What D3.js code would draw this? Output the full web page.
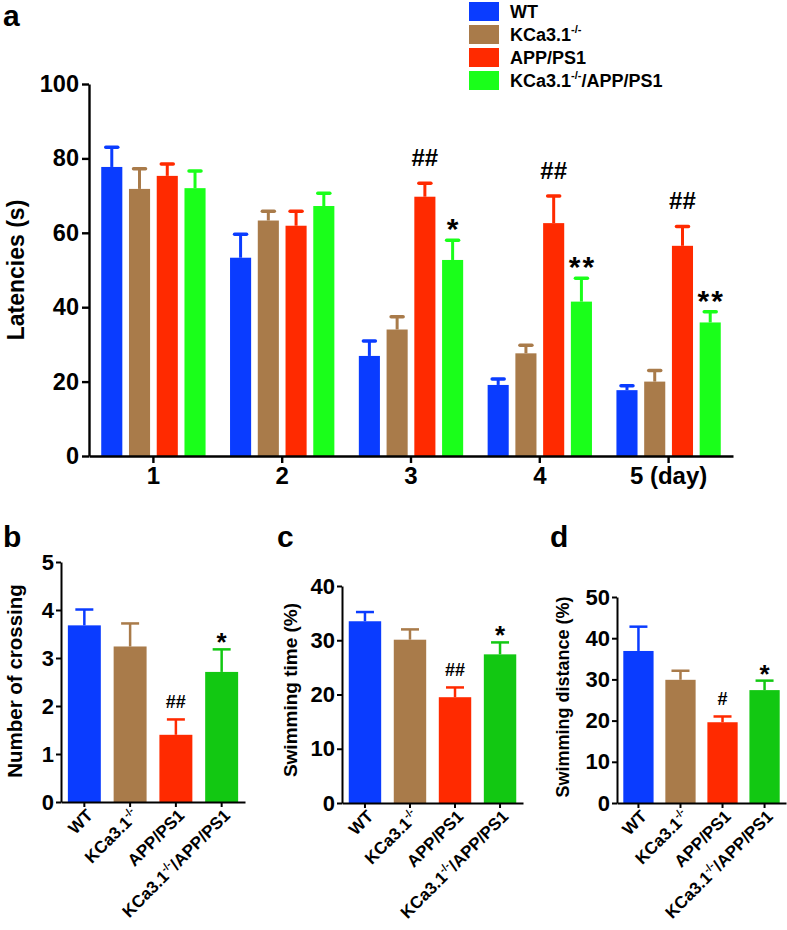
<!DOCTYPE html>
<html><head><meta charset="utf-8">
<script src="https://cdn.jsdelivr.net/npm/d3@7"></script>
<style>
body{margin:0;background:#fff}
text{font-family:"Liberation Sans",Arial,Helvetica,sans-serif;font-weight:bold;fill:#000}
</style>
</head><body>
<svg id="chart" width="787" height="930"></svg>
<script>
// ---------- data ----------
const groups = ["WT", "KCa3.1-/-", "APP/PS1", "KCa3.1-/-/APP/PS1"];
const days = ["1", "2", "3", "4", "5 (day)"];
const latencyTicks = [0, 20, 40, 60, 80, 100];

const latWT      = [77.7, 53.3, 26.9, 19.1, 17.7];
const latWTErr   = [5.3, 6.3, 4.0, 1.6, 1.2];
const latKO      = [71.8, 63.3, 34.0, 27.6, 20.0];
const latKOErr   = [5.4, 2.5, 3.4, 2.2, 3.0];
const latAPP     = [75.3, 61.9, 69.7, 62.6, 56.5];
const latAPPErr  = [3.2, 3.9, 3.6, 7.3, 5.2];
const latDKO     = [72.0, 67.2, 52.7, 41.5, 35.9];
const latDKOErr  = [4.6, 3.4, 5.3, 6.3, 2.9];

// significance marks in panel a: [group index, day index, text]
const latMarks = [[2, 2, "##"], [3, 2, "*"], [2, 3, "##"], [3, 3, "**"], [2, 4, "##"], [3, 4, "**"]];

const crossing    = [3.68, 3.24, 1.40, 2.71];
const crossingErr = [0.33, 0.48, 0.32, 0.47];
const crossingTicks = [0, 1, 2, 3, 4, 5];
const crossingMarks = ["", "", "##", "*"];

const swimTime    = [33.5, 30.1, 19.5, 27.4];
const swimTimeErr = [1.7, 1.9, 1.8, 2.2];
const swimTimeTicks = [0, 10, 20, 30, 40];
const swimTimeMarks = ["", "", "##", "*"];

const swimDist    = [36.9, 29.9, 19.6, 27.4];
const swimDistErr = [5.9, 2.2, 1.4, 2.3];
const swimDistTicks = [0, 10, 20, 30, 40, 50];
const swimDistMarks = ["", "", "#", "*"];

const colorsA = ["#0a3cff", "#a97b4a", "#ff2a00", "#1aff1a"];
const colorsS = ["#0a3cff", "#a97b4a", "#ff2a00", "#12c812"];

// ---------- helpers ----------
const svg = d3.select("#chart");

function richLabel(sel, name, fs) {
  const i = name.indexOf("-/-");
  if (i < 0) { sel.text(name); return; }
  sel.text(null);
  sel.append("tspan").text(name.slice(0, i));
  sel.append("tspan").attr("dy", -fs * 0.42).attr("font-size", fs * 0.62).text("-/-");
  const rest = name.slice(i + 3);
  if (rest) sel.append("tspan").attr("dy", fs * 0.42).text(rest);
}

function styleAxis(g, fs, sw) {
  g.select(".domain").attr("stroke", "#000").attr("stroke-width", sw);
  g.selectAll(".tick line").attr("stroke", "#000").attr("stroke-width", sw);
  g.selectAll(".tick text").attr("font-size", fs).attr("fill", "#000")
    .attr("font-family", '"Liberation Sans",Arial,sans-serif').attr("font-weight", "bold");
}

// ---------- panel a ----------
const latSeries = [
  {m: latWT, e: latWTErr}, {m: latKO, e: latKOErr},
  {m: latAPP, e: latAPPErr}, {m: latDKO, e: latDKOErr}
];
const ax0 = 89, ax1 = 733, ay0 = 456, ay1 = 84;
const xDay = d3.scaleBand().domain(days).range([ax0, ax1]).paddingInner(0.19).paddingOuter(0.095);
const xGrp = d3.scaleBand().domain(groups).range([0, xDay.bandwidth()]).paddingInner(0.24);
const yLat = d3.scaleLinear().domain([0, 100]).range([ay0, ay1]);

const pa = svg.append("g");
days.forEach((d, di) => {
  groups.forEach((gname, gi) => {
    const s = latSeries[gi];
    const x = xDay(d) + xGrp(gname);
    const w = xGrp.bandwidth();
    const cx = x + w / 2;
    const top = yLat(s.m[di]), cap = yLat(s.m[di] + s.e[di]);
    pa.append("line").attr("x1", cx).attr("x2", cx).attr("y1", top).attr("y2", cap)
      .attr("stroke", colorsA[gi]).attr("stroke-width", 3);
    pa.append("line").attr("x1", cx - 6).attr("x2", cx + 6).attr("y1", cap).attr("y2", cap)
      .attr("stroke", colorsA[gi]).attr("stroke-width", 3.5).attr("stroke-linecap", "round");
    pa.append("rect").attr("x", x).attr("y", top).attr("width", w).attr("height", ay0 - top)
      .attr("fill", colorsA[gi]);
  });
});
latMarks.forEach(([gi, di, t]) => {
  const s = latSeries[gi];
  const cx = xDay(days[di]) + xGrp(groups[gi]) + xGrp.bandwidth() / 2;
  const cap = yLat(s.m[di] + s.e[di]);
  const isStar = t[0] === "*";
  pa.append("text").attr("x", cx + (isStar ? 1 : 0)).attr("y", isStar ? cap - 1 : cap - 17)
    .attr("text-anchor", "middle").attr("font-size", isStar ? 30 : 24)
    .attr("letter-spacing", isStar ? 2 : 0).text(t);
});
const gya = pa.append("g").attr("transform", `translate(${ax0},0)`)
  .call(d3.axisLeft(yLat).tickValues(latencyTicks).tickSize(7).tickSizeOuter(0).tickPadding(3));
styleAxis(gya, 23.5, 2.4);
const gxa = pa.append("g").attr("transform", `translate(0,${ay0})`)
  .call(d3.axisBottom(xDay).tickSize(7).tickSizeOuter(0).tickPadding(4));
styleAxis(gxa, 24, 2.4);
pa.append("text").attr("transform", `translate(24,270) rotate(-90)`).attr("text-anchor", "middle")
  .attr("font-size", 23).text("Latencies (s)");
pa.append("text").attr("x", 3).attr("y", 26).attr("font-size", 30).text("a");

// legend
const leg = svg.append("g");
groups.forEach((gname, gi) => {
  const yy = 2 + gi * 23;
  leg.append("rect").attr("x", 469).attr("y", yy).attr("width", 30).attr("height", 19).attr("fill", colorsA[gi]);
  const t = leg.append("text").attr("x", 510).attr("y", yy + 16).attr("font-size", 18);
  richLabel(t, gname, 18);
});

// ---------- small panels ----------
function smallPanel(cfg) {
  const g = svg.append("g");
  const x = d3.scaleBand().domain(groups).range([cfg.x0, cfg.x1]).paddingInner(0.28).paddingOuter(0.15);
  const y = d3.scaleLinear().domain([0, cfg.ticks[cfg.ticks.length - 1]]).range([cfg.y0, cfg.y1]);
  groups.forEach((gname, gi) => {
    const bx = x(gname), w = x.bandwidth(), cx = bx + w / 2;
    const top = y(cfg.values[gi]), cap = y(cfg.values[gi] + cfg.errs[gi]);
    g.append("line").attr("x1", cx).attr("x2", cx).attr("y1", top).attr("y2", cap)
      .attr("stroke", colorsS[gi]).attr("stroke-width", 2.5);
    g.append("line").attr("x1", cx - 9).attr("x2", cx + 9).attr("y1", cap).attr("y2", cap)
      .attr("stroke", colorsS[gi]).attr("stroke-width", 2.5);
    g.append("rect").attr("x", bx).attr("y", top).attr("width", w).attr("height", cfg.y0 - top)
      .attr("fill", colorsS[gi]);
    const mk = cfg.marks[gi];
    if (mk) {
      const isStar = mk[0] === "*";
      g.append("text").attr("x", cx).attr("y", isStar ? cap + 2 : cap - 11)
        .attr("text-anchor", "middle").attr("font-size", isStar ? 26 : 18).text(mk);
    }
  });
  const gy = g.append("g").attr("transform", `translate(${cfg.x0},0)`)
    .call(d3.axisLeft(y).tickValues(cfg.ticks).tickFormat(d3.format("d")).tickSize(5).tickSizeOuter(0).tickPadding(2));
  styleAxis(gy, 22, 2);
  const gx = g.append("g").attr("transform", `translate(0,${cfg.y0})`)
    .call(d3.axisBottom(x).tickSize(5).tickSizeOuter(0));
  styleAxis(gx, 17, 2);
  gx.selectAll(".tick text").each(function(d) {
    const t = d3.select(this);
    t.attr("x", 0).attr("y", 0).attr("dy", 0).attr("text-anchor", "end")
      .attr("transform", "translate(9.5,14.5) rotate(-45)");
    richLabel(t, d, 17);
  });
  g.append("text").attr("transform", `translate(${cfg.lx + cfg.lfs * 0.36},${cfg.ly}) rotate(-90)`)
    .attr("text-anchor", "middle").attr("font-size", cfg.lfs).text(cfg.label);
  g.append("text").attr("x", cfg.px).attr("y", 547).attr("font-size", 30).text(cfg.letter);
}

smallPanel({letter: "b", px: 3, x0: 61, x1: 245, y0: 802, y1: 562, ticks: crossingTicks,
  values: crossing, errs: crossingErr, marks: crossingMarks, label: "Number of crossing", lx: 15, ly: 681, lfs: 20.5});
smallPanel({letter: "c", px: 277, x0: 342, x1: 523, y0: 803, y1: 586, ticks: swimTimeTicks,
  values: swimTime, errs: swimTimeErr, marks: swimTimeMarks, label: "Swimming time (%)", lx: 290, ly: 690, lfs: 19});
smallPanel({letter: "d", px: 550, x0: 617, x1: 786, y0: 803, y1: 597, ticks: swimDistTicks,
  values: swimDist, errs: swimDistErr, marks: swimDistMarks, label: "Swimming distance (%)", lx: 563, ly: 697, lfs: 18});
</script>
</body></html>
